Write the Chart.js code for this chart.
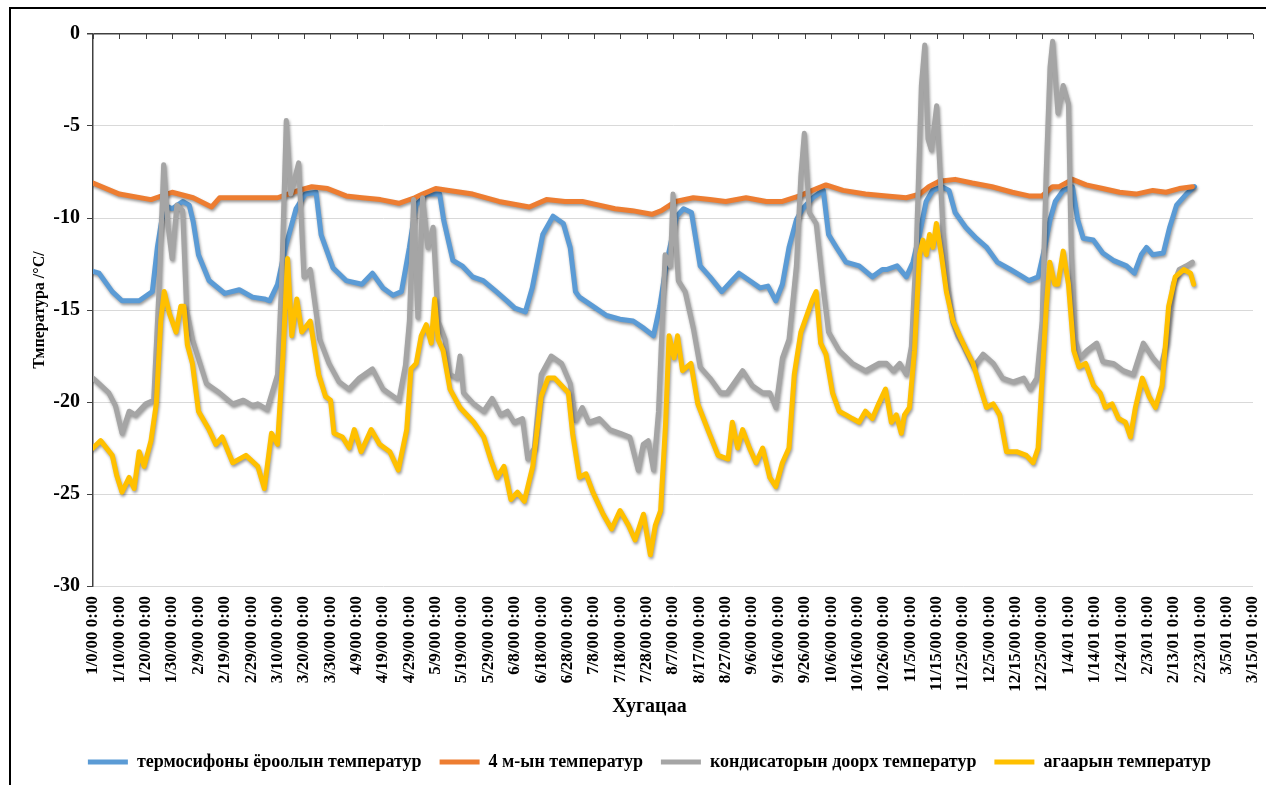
<!DOCTYPE html>
<html>
<head>
<meta charset="utf-8">
<title>Температур</title>
<script src="https://cdn.jsdelivr.net/npm/chart.js@4.4.1/dist/chart.umd.min.js"></script>
<style>
  html, body { margin: 0; padding: 0; background: #fff; overflow: hidden; }
  #wrap { position: relative; width: 1266px; height: 785px; }
  #frame { position: absolute; left: 9px; top: 7px; right: -5px; bottom: -5px;
           border-left: 2px solid #000; border-top: 2px solid #000; pointer-events: none; }
  canvas { position: absolute; left: 0; top: 0; }
</style>
</head>
<body>
<div id="wrap">
  <canvas id="tempChart" width="1266" height="785"></canvas>
  <div id="frame"></div>
</div>
<script>
// Series names (legend) and axis titles
const seriesNames = [
  "термосифоны ёроолын температур",
  "4 м-ын температур",
  "кондисаторын доорх температур",
  "агаарын температур"
];
const xTitle = "Хугацаа";
const yTitle = "Тмпература /°C/";

// X tick labels, one every 10 days
const xTickLabels = [
  "1/0/00 0:00", "1/10/00 0:00", "1/20/00 0:00", "1/30/00 0:00", "2/9/00 0:00",
  "2/19/00 0:00", "2/29/00 0:00", "3/10/00 0:00", "3/20/00 0:00", "3/30/00 0:00",
  "4/9/00 0:00", "4/19/00 0:00", "4/29/00 0:00", "5/9/00 0:00", "5/19/00 0:00",
  "5/29/00 0:00", "6/8/00 0:00", "6/18/00 0:00", "6/28/00 0:00", "7/8/00 0:00",
  "7/18/00 0:00", "7/28/00 0:00", "8/7/00 0:00", "8/17/00 0:00", "8/27/00 0:00",
  "9/6/00 0:00", "9/16/00 0:00", "9/26/00 0:00", "10/6/00 0:00", "10/16/00 0:00",
  "10/26/00 0:00", "11/5/00 0:00", "11/15/00 0:00", "11/25/00 0:00", "12/5/00 0:00",
  "12/15/00 0:00", "12/25/00 0:00", "1/4/01 0:00", "1/14/01 0:00", "1/24/01 0:00",
  "2/3/01 0:00", "2/13/01 0:00", "2/23/01 0:00", "3/5/01 0:00", "3/15/01 0:00"
];

// [day, temperature]
const siphon = [
  [0,-12.9],[2.3,-13.0],[7.3,-14.0],[11,-14.5],[17.5,-14.5],[22.5,-14.0],[24.4,-11.6],[27,-9.3],
  [30,-9.5],[34,-9.1],[36.5,-9.3],[38,-10.2],[40,-12.0],[44,-13.4],[50,-14.1],[55.5,-13.9],
  [60.5,-14.3],[65,-14.4],[67,-14.5],[70,-13.6],[73,-11.6],[77,-9.5],[80.5,-8.7],[84.6,-8.6],
  [86.5,-10.9],[91,-12.7],[96,-13.4],[102,-13.6],[106,-13.0],[110,-13.8],[113.8,-14.2],[117,-14.0],
  [120,-11.6],[122.5,-9.3],[126.3,-8.7],[131.5,-8.7],[133,-10.1],[136.5,-12.3],[140,-12.6],[144,-13.2],
  [148,-13.4],[153,-14.0],[157,-14.5],[160,-14.9],[164,-15.1],[166.6,-13.8],[170.6,-10.9],[174.5,-9.9],
  [178.4,-10.3],[181,-11.6],[183,-14.0],[184.5,-14.3],[189.7,-14.8],[194.8,-15.3],[199.9,-15.5],[204.9,-15.6],
  [209,-16.0],[212.6,-16.4],[215,-14.8],[217.6,-12.4],[221.4,-9.9],[224,-9.5],[227,-9.7],[230.3,-12.6],
  [234,-13.2],[238.5,-14.0],[242.4,-13.4],[245,-13.0],[249,-13.4],[253,-13.8],[256,-13.7],[259,-14.5],
  [261.5,-13.6],[264,-11.6],[266.8,-10.1],[269.2,-9.5],[273,-8.9],[277,-8.5],[279,-10.9],[282,-11.6],
  [285.6,-12.4],[290.6,-12.6],[295.6,-13.2],[299.4,-12.8],[301,-12.8],[305,-12.6],[308.5,-13.2],[311,-12.4],
  [313.5,-10.9],[316,-9.1],[318.5,-8.5],[322,-8.3],[324.7,-8.5],[327,-9.7],[331,-10.5],[335,-11.1],
  [339,-11.6],[343,-12.4],[348,-12.8],[351.6,-13.1],[355,-13.4],[358.5,-13.2],[361,-11.6],[363,-10.1],
  [365,-9.1],[368,-8.5],[371.5,-8.3],[373.5,-10.1],[375.6,-11.1],[379.4,-11.2],[383,-11.9],[387,-12.3],
  [392,-12.6],[395,-13.0],[397.6,-12.0],[399.6,-11.6],[402,-12.0],[406,-11.9],[408.4,-10.5],[411,-9.3],
  [414.7,-8.7],[417.8,-8.3]
];

const depth4m = [
  [0,-8.1],[10,-8.7],[22,-9.0],[30,-8.6],[38,-8.9],[45,-9.4],[48,-8.9],[60,-8.9],[70,-8.9],[74,-8.7],
  [78,-8.5],[83,-8.3],[89,-8.4],[96,-8.8],[102,-8.9],[109,-9.0],[116,-9.2],[122,-8.9],[125,-8.7],[130,-8.4],
  [135,-8.5],[144,-8.7],[154,-9.1],[165.5,-9.4],[172,-9.0],[179,-9.1],[185.6,-9.1],[192,-9.3],[198,-9.5],
  [204.5,-9.6],[212,-9.8],[215.6,-9.6],[221,-9.1],[227.7,-8.9],[234,-9.0],[240,-9.1],[247.7,-8.9],[255.4,-9.1],
  [261.5,-9.1],[268,-8.8],[274.5,-8.4],[278,-8.2],[284.5,-8.5],[293,-8.7],[301,-8.8],[308.5,-8.9],[313.5,-8.7],
  [317,-8.3],[321,-8.0],[327,-7.9],[333.5,-8.1],[341,-8.3],[348.7,-8.6],[355,-8.8],[360,-8.8],[364,-8.3],
  [366.5,-8.3],[371.5,-7.9],[376.7,-8.2],[383,-8.4],[389.4,-8.6],[395.6,-8.7],[402,-8.5],[407,-8.6],
  [412,-8.4],[417,-8.3]
];

const condenser = [
  [0,-18.7],[2.3,-19.0],[6,-19.5],[8.5,-20.2],[11,-21.7],[13.7,-20.5],[16,-20.7],[20,-20.1],[23,-19.9],
  [25,-14.0],[26.8,-7.1],[28.5,-10.5],[30,-12.2],[31.8,-9.3],[34,-9.6],[35.5,-15.0],[37.7,-16.6],[43,-19.0],
  [48,-19.5],[53,-20.1],[57,-19.9],[60.5,-20.2],[62.5,-20.1],[66,-20.4],[70,-18.5],[71.5,-13.6],[73.3,-4.7],
  [75,-8.7],[78,-7.0],[80,-13.2],[82.4,-12.8],[86,-16.6],[89.5,-17.9],[93.3,-18.9],[97,-19.3],[101,-18.7],
  [106,-18.2],[110,-19.3],[114,-19.7],[116,-19.9],[118.5,-18.0],[120,-15.6],[121.6,-9.0],[123.2,-15.4],
  [125,-8.9],[127,-11.6],[129,-10.5],[130.9,-15.6],[133.5,-16.6],[135.4,-18.5],[138,-18.7],[139.2,-17.5],
  [140.5,-19.5],[144.4,-20.1],[148.2,-20.5],[151.4,-19.8],[154.6,-20.7],[157.2,-20.5],[159.7,-21.1],
  [162.9,-20.9],[164.9,-23.1],[167.4,-22.5],[170,-18.5],[173.8,-17.5],[177.7,-17.9],[181,-19.0],[183,-21.0],
  [185.6,-20.3],[188,-21.1],[192,-20.9],[196,-21.5],[200,-21.7],[203.6,-21.9],[206.8,-23.7],[208.7,-22.3],
  [210.6,-22.1],[212.6,-23.7],[214.5,-20.5],[217,-12.0],[219,-12.6],[220,-8.7],[222,-13.4],[224.6,-14.0],
  [227.7,-16.0],[230.3,-18.1],[234,-18.7],[238,-19.5],[240.5,-19.5],[242.5,-19.1],[246.4,-18.3],[250,-19.1],
  [254,-19.5],[256.7,-19.5],[259,-20.3],[261.5,-17.6],[264,-16.6],[266.8,-12.6],[268.5,-7.7],[269.8,-5.4],
  [271.7,-9.7],[274.3,-10.3],[276.8,-13.6],[279,-16.2],[283,-17.2],[288,-17.9],[293,-18.3],[298,-17.9],
  [301,-17.9],[303.5,-18.3],[306,-17.9],[308.5,-18.5],[310.4,-17.0],[312.3,-11.6],[314.2,-2.8],[315.5,-0.6],
  [316.7,-5.7],[318,-6.3],[320,-3.9],[321,-6.7],[322.4,-10.7],[324.2,-13.6],[326,-15.6],[328,-16.4],
  [330,-16.9],[334,-18.1],[337.6,-17.4],[341.5,-17.9],[345,-18.7],[349,-18.9],[353,-18.7],[355.4,-19.3],
  [358,-18.7],[360,-15.6],[361.5,-7.7],[363,-1.8],[364,-0.4],[366,-4.3],[368,-2.8],[370,-3.8],[371,-11.6],
  [372.6,-16.6],[374.4,-17.6],[377,-17.2],[380.7,-16.8],[383,-17.8],[387,-17.9],[390.8,-18.3],[394.6,-18.5],
  [398.4,-16.8],[402,-17.6],[405,-18.1],[407.3,-16.8],[409.8,-13.6],[412,-12.8],[414.7,-12.6],[417,-12.4]
];

const air = [
  [0,-22.5],[2.9,-22.1],[7.3,-22.9],[9,-24.0],[11,-24.9],[13.7,-24.1],[15.6,-24.7],[17.5,-22.7],[19.4,-23.5],
  [22,-22.1],[24,-20.1],[25.7,-15.6],[27,-14.0],[29,-15.2],[31.5,-16.2],[33.3,-14.8],[34.5,-14.8],[35.8,-16.9],
  [37.7,-17.9],[40,-20.5],[44,-21.5],[46.6,-22.3],[49,-21.9],[53,-23.3],[58,-22.9],[62.5,-23.5],[65,-24.7],
  [67.7,-21.7],[70,-22.3],[72,-17.6],[73.8,-12.2],[75.4,-16.4],[77.3,-14.4],[79.2,-16.2],[82.4,-15.6],
  [85.6,-18.5],[88.2,-19.7],[90.1,-19.9],[91.4,-21.7],[94.6,-21.9],[97.2,-22.5],[99.1,-21.5],[101.7,-22.7],
  [105.5,-21.5],[108.7,-22.3],[112.6,-22.7],[115.8,-23.7],[119,-21.5],[120.6,-18.2],[122.6,-17.9],[124.5,-16.4],
  [126.4,-15.8],[128.3,-16.8],[129.6,-14.4],[130.9,-16.6],[132.8,-17.2],[135.4,-19.3],[139.2,-20.3],[144.4,-21.1],
  [148.2,-21.9],[150.8,-23.1],[153.3,-24.1],[155.9,-23.5],[158.5,-25.3],[161,-24.9],[163.6,-25.4],[166.8,-23.5],
  [170,-19.7],[172.6,-18.7],[175.1,-18.7],[177.7,-19.1],[180.3,-19.5],[181.9,-21.7],[184.5,-24.1],[187,-23.9],
  [189.6,-24.9],[193.5,-26.1],[196.7,-26.9],[199.9,-25.9],[203.1,-26.7],[205.6,-27.5],[208.8,-26.1],[211.4,-28.3],
  [213.3,-26.7],[215.3,-25.9],[217.2,-21.1],[218.5,-16.4],[220.4,-17.6],[221.7,-16.4],[223.6,-18.3],[226.8,-17.9],
  [229.4,-20.1],[233.2,-21.5],[237.1,-22.9],[240.9,-23.1],[242.5,-21.1],[244.5,-22.5],[246.4,-21.5],[249,-22.5],
  [251.5,-23.3],[254,-22.5],[256.7,-24.1],[259,-24.6],[261.5,-23.3],[264,-22.5],[266,-18.5],[268.5,-16.2],
  [271,-15.2],[273,-14.4],[274.3,-14.0],[276,-16.8],[278,-17.4],[280.5,-19.5],[283,-20.5],[285.6,-20.7],
  [288,-20.9],[290.6,-21.1],[293,-20.5],[295.6,-20.9],[298,-20.1],[300.6,-19.3],[302.8,-21.1],[304.7,-20.7],
  [306.6,-21.7],[307.8,-20.7],[309.7,-20.3],[311.6,-17.2],[313.5,-12.0],[314.8,-11.2],[316.1,-12.0],[317.3,-10.9],
  [318.6,-11.6],[319.9,-10.3],[321.8,-12.0],[323.7,-14.0],[326.2,-15.6],[328.7,-16.4],[331.3,-17.2],[333.8,-17.9],
  [336.3,-19.1],[338.9,-20.3],[341.4,-20.1],[343.9,-20.7],[346.5,-22.7],[350.3,-22.7],[354,-22.9],[356.6,-23.3],
  [358.5,-22.5],[359.7,-19.5],[361.6,-14.8],[362.9,-12.4],[364.8,-13.6],[366,-13.6],[368,-11.8],[370,-13.6],
  [372,-17.2],[374,-18.1],[376.5,-17.9],[379.5,-19.1],[382,-19.5],[384,-20.3],[386.5,-20.1],[389,-20.9],
  [391.6,-21.1],[393.5,-21.9],[395.4,-20.3],[398,-18.7],[400.6,-19.7],[403,-20.3],[405.5,-19.1],[408,-14.8],
  [410.5,-13.2],[413.7,-12.8],[416.3,-13.0],[417.5,-13.6]
];

const serif = "'Liberation Serif', 'Times New Roman', serif";
const toPoints = arr => arr.map(([x, y]) => ({ x, y }));

// soft dark shadow under the lines, like the Excel shadow effect
const lineShadow = {
  id: "lineShadow",
  beforeDatasetDraw(chart) {
    const c = chart.ctx;
    c.save();
    c.shadowColor = "rgba(0,0,0,0.4)";
    c.shadowBlur = 3;
    c.shadowOffsetX = 1;
    c.shadowOffsetY = 2;
  },
  afterDatasetDraw(chart) {
    chart.ctx.restore();
  }
};

// small tick marks hanging down from the top axis line
const topTicks = {
  id: "topTicks",
  beforeDatasetsDraw(chart) {
    const { ctx, chartArea, scales } = chart;
    ctx.save();
    ctx.strokeStyle = "#404040";
    ctx.lineWidth = 1;
    scales.x.ticks.forEach(t => {
      const px = Math.round(scales.x.getPixelForValue(t.value)) + 0.5;
      ctx.beginPath();
      ctx.moveTo(px, chartArea.top);
      ctx.lineTo(px, chartArea.top + 5);
      ctx.stroke();
    });
    ctx.restore();
  }
};

const colors = ["#5B9BD5", "#ED7D31", "#A5A5A5", "#FFC000"];
const series = [siphon, depth4m, condenser, air];

new Chart(document.getElementById("tempChart"), {
  type: "line",
  data: {
    datasets: series.map((s, i) => ({
      label: seriesNames[i],
      data: toPoints(s),
      borderColor: colors[i],
      backgroundColor: colors[i],
      order: 4 - i // later series drawn on top, like Excel
    }))
  },
  options: {
    responsive: false,
    animation: false,
    elements: {
      line: { borderWidth: 5, tension: 0, borderJoinStyle: "round", borderCapStyle: "round" },
      point: { radius: 0 }
    },
    layout: { padding: { left: 46, right: 13, top: 34, bottom: 4 } },
    scales: {
      x: {
        type: "linear",
        min: 0,
        max: 440,
        afterFit: s => {
          s.height = 109;
          s.paddingLeft = 0;
          s.paddingRight = 0;
        },
        grid: { display: false, drawTicks: false },
        border: { display: false },
        ticks: {
          stepSize: 10,
          autoSkip: false,
          minRotation: 90,
          maxRotation: 90,
          padding: 10,
          color: "#000",
          font: { family: serif, size: 17, weight: "bold" },
          callback: v => xTickLabels[Math.round(v / 10)]
        }
      },
      y: {
        min: -30,
        max: 0,
        afterFit: s => { s.width = 47; },
        ticks: {
          stepSize: 5,
          padding: 7,
          color: "#000",
          font: { family: serif, size: 20, weight: "bold" }
        },
        grid: {
          color: c => (c.tick && c.tick.value === 0 ? "#404040" : "#d9d9d9"),
          lineWidth: c => (c.tick && c.tick.value === 0 ? 1.5 : 1),
          tickColor: "#404040",
          tickLength: 6
        },
        border: { color: "#404040", width: 1.5 },
        title: {
          display: true,
          text: yTitle,
          color: "#000",
          font: { family: serif, size: 16, weight: "bold" },
          padding: { top: -15.6, bottom: 0 }
        }
      }
    },
    plugins: {
      legend: {
        position: "bottom",
        labels: {
          color: "#000",
          font: { family: serif, size: 18, weight: "bold" },
          boxWidth: 40,
          boxHeight: 5,
          padding: 18,
          sort: (a, b) => a.datasetIndex - b.datasetIndex,
          generateLabels: chart =>
            Chart.defaults.plugins.legend.labels.generateLabels(chart).map(l => ({ ...l, lineWidth: 0 }))
        }
      },
      // used as the x axis title so it centres like the original
      title: {
        display: true,
        text: xTitle,
        position: "bottom",
        weight: 500,
        color: "#000",
        font: { family: serif, size: 20, weight: "bold" },
        padding: { top: 0, bottom: 16 }
      },
      tooltip: { enabled: false }
    }
  },
  plugins: [lineShadow, topTicks]
});
</script>
</body>
</html>
